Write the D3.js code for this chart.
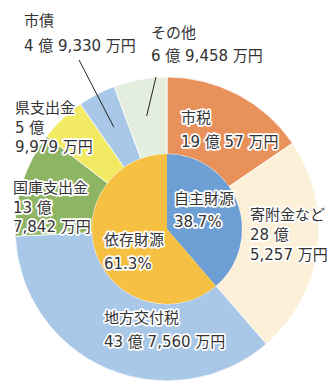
<!DOCTYPE html>
<html>
<head>
<meta charset="utf-8">
<script src="https://cdn.jsdelivr.net/npm/d3@7"></script>
<style>
  html, body { margin: 0; padding: 0; background: #fff; }
  svg { display: block; }
  text { font-family: "DejaVu Sans", "Noto Sans CJK JP", sans-serif; font-size: 15px; fill: #333; }
  .halo { paint-order: stroke; stroke: #fff; stroke-width: 3.5px; stroke-linejoin: round; }
</style>
</head>
<body>
<svg id="chart" width="336" height="384"></svg>
<script>
// Revenue breakdown (outer ring), amounts in 万円
const sources = ["市税", "寄附金など", "地方交付税", "国庫支出金", "県支出金", "市債", "その他"];
const amounts = [190057, 285257, 437560, 137842, 59979, 49330, 69458];
const sourceColors = ["#E9915B", "#FCF0D8", "#A9C7E6", "#8EB563", "#F2EA62", "#A9C7E6", "#E4EEDF"];

// Own vs dependent revenue (inner pie), percent
const groups = ["自主財源", "依存財源"];
const groupShares = [38.7, 61.3];
const groupColors = ["#6E9FD4", "#F6C143"];

// Label layout: first baseline, line height, how the amount is split into lines
const sourceLayout = [
  { x: 181, y: 123, lh: 24, split: false },
  { x: 250, y: 220, lh: 20, split: true },
  { x: 104, y: 323, lh: 24, split: false },
  { x: 13,  y: 193, lh: 19.5, split: true },
  { x: 15,  y: 113, lh: 19.5, split: true },
  { x: 24,  y: 26,  lh: 25, split: false, leader: [79, 60] },
  { x: 151, y: 38,  lh: 23, split: false, leader: [156, 77] }
];
const groupLayout = [
  { x: 174, y: 204, lh: 23 },
  { x: 104, y: 245, lh: 24 }
];

const cx = 167, cy = 229, R = 152, r = 75;
const svg = d3.select("#chart");
const g = svg.append("g").attr("transform", `translate(${cx},${cy})`);

const pie = d3.pie().sort(null).value(d => d);
const outerArcs = pie(amounts);
const innerArcs = pie(groupShares);

const outerArc = d3.arc().innerRadius(r).outerRadius(R);
const innerArc = d3.arc().innerRadius(0).outerRadius(r);

g.selectAll("path.outer").data(outerArcs).join("path")
  .attr("class", "outer")
  .attr("d", outerArc)
  .attr("fill", (d, i) => sourceColors[i])
  .attr("stroke", "#fff").attr("stroke-width", 0.8);

g.selectAll("path.inner").data(innerArcs).join("path")
  .attr("class", "inner")
  .attr("d", innerArc)
  .attr("fill", (d, i) => groupColors[i]);

// Leader lines for narrow slices
const leaderArc = d3.arc().innerRadius(112).outerRadius(118);
sourceLayout.forEach((L, i) => {
  if (!L.leader) return;
  const [ex, ey] = leaderArc.centroid(outerArcs[i]);
  svg.append("line")
    .attr("x1", L.leader[0]).attr("y1", L.leader[1])
    .attr("x2", cx + ex).attr("y2", cy + ey)
    .attr("stroke", "#222").attr("stroke-width", 1);
});

const fmt = d3.format(",");
function amountLines(v, split) {
  const oku = Math.floor(v / 10000), man = v % 10000;
  return split ? [`${oku} 億`, `${fmt(man)} 万円`] : [`${oku} 億 ${fmt(man)} 万円`];
}

function drawLabel(lines, L) {
  const t = svg.append("text").attr("class", "halo");
  lines.forEach((s, k) => {
    t.append("tspan").attr("x", L.x).attr("y", L.y + k * L.lh).text(s);
  });
}

sources.forEach((name, i) => {
  drawLabel([name, ...amountLines(amounts[i], sourceLayout[i].split)], sourceLayout[i]);
});
groups.forEach((name, i) => {
  drawLabel([name, `${groupShares[i]}%`], groupLayout[i]);
});
</script>
</body>
</html>
